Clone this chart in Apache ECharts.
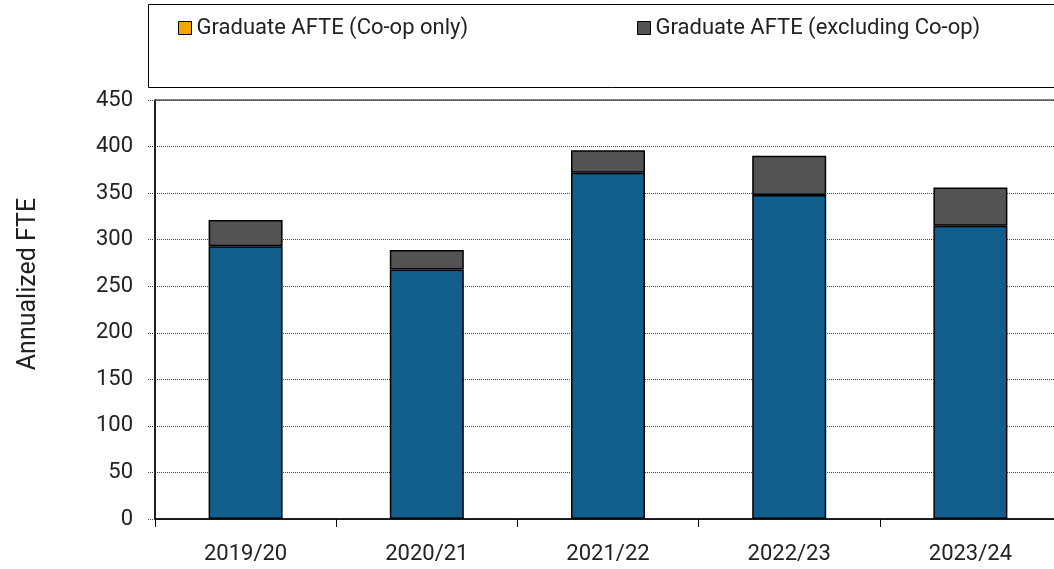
<!DOCTYPE html>
<html>
<head>
<meta charset="utf-8">
<script src="https://cdn.jsdelivr.net/npm/echarts@6/dist/echarts.min.js"></script>
<style>
  html, body { margin: 0; padding: 0; background: #fff; overflow: hidden; }
  /* the chart runs past the right edge of the picture, so the div is a bit wider */
  #main { width: 1075px; height: 569px; }
</style>
</head>
<body>
<div id="main"></div>
<script>
// data
const years = ['2019/20', '2020/21', '2021/22', '2022/23', '2023/24'];
const baseFte = [293, 268, 372, 348, 315];      // blue part (not in legend)
const coopOnly = [0, 0, 0, 0, 0];                // Graduate AFTE (Co-op only)
const exclCoop = [28, 21, 24, 42, 41];           // Graduate AFTE (excluding Co-op)
const yTicks = [0, 450, 50];                     // min, max, step

const FONT = 'Roboto, sans-serif';

let chart = echarts.init(document.getElementById('main'));

function legendFor(name, x) {
  return {
    left: x,
    top: 12,
    icon: 'rect',
    itemWidth: 13,
    itemHeight: 13,
    selectedMode: false,
    data: [name],
    itemStyle: { borderColor: '#000', borderWidth: 1 },
    textStyle: { fontFamily: FONT, fontSize: 22, color: '#222' }
  };
}

let option = {
  animation: false,
  backgroundColor: '#fff',
  legend: [
    legendFor('Graduate AFTE (Co-op only)', 173),
    legendFor('Graduate AFTE (excluding Co-op)', 632)
  ],
  graphic: [
    {
      type: 'rect',
      shape: { x: 148.5, y: 4.5, width: 940, height: 83 },
      style: { fill: 'none', stroke: '#000', lineWidth: 1 }
    },
    {
      type: 'text',
      x: 29,
      y: 284,
      rotation: Math.PI / 2,
      style: {
        text: 'Annualized FTE',
        font: '25px ' + FONT,
        fill: '#222',
        align: 'center',
        verticalAlign: 'middle'
      }
    }
  ],
  grid: {
    left: 155,
    top: 100,
    width: 906,
    height: 419,
    show: true,
    borderColor: '#000',
    borderWidth: 1,
    backgroundColor: 'transparent'
  },
  xAxis: {
    type: 'category',
    data: years,
    axisLine: { lineStyle: { color: '#000', width: 1.5 } },
    axisTick: { show: true, length: 8, lineStyle: { color: '#000' } },
    axisLabel: { fontFamily: FONT, fontSize: 22, color: '#222', margin: 24 }
  },
  yAxis: {
    type: 'value',
    min: yTicks[0],
    max: yTicks[1],
    interval: yTicks[2],
    axisLine: { show: true, lineStyle: { color: '#000', width: 1.5 } },
    axisTick: { show: true, length: 7, lineStyle: { color: '#444', type: 'dotted' } },
    axisLabel: { fontFamily: FONT, fontSize: 22, color: '#222', margin: 22 },
    splitLine: { show: true, lineStyle: { color: '#444', type: 'dotted', width: 1 } }
  },
  series: [
    {
      name: 'Graduate AFTE',
      type: 'bar',
      stack: 'fte',
      barWidth: 74,
      data: baseFte,
      itemStyle: { color: '#115E8D', borderColor: '#000', borderWidth: 1.5 }
    },
    {
      name: 'Graduate AFTE (Co-op only)',
      type: 'bar',
      stack: 'fte',
      barWidth: 74,
      data: coopOnly,
      itemStyle: { color: '#F5A700', borderColor: '#000', borderWidth: 0 }
    },
    {
      name: 'Graduate AFTE (excluding Co-op)',
      type: 'bar',
      stack: 'fte',
      barWidth: 74,
      data: exclCoop,
      itemStyle: { color: '#545253', borderColor: '#000', borderWidth: 1.5 }
    }
  ]
};

option && chart.setOption(option);
</script>
</body>
</html>
